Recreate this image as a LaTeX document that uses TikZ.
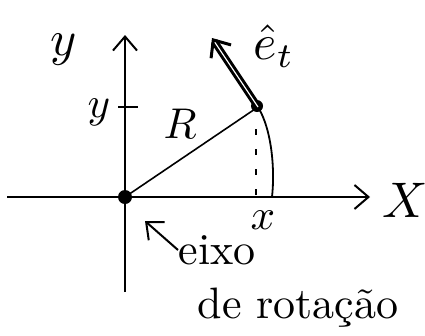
\documentclass[tikz,border=0pt]{standalone}
\usepackage{amsmath,amssymb}
\usepackage{tikz}
\usetikzlibrary{arrows.meta,positioning,calc}

\begin{document}
\begin{tikzpicture}[x=1pt,y=-1pt,>={Straight Barb[length=14pt,width=24pt]},
  axis/.style={line width=2pt},
  lbl/.style={inner sep=0pt,scale=4.3},
  big/.style={inner sep=0pt,scale=5},
  txt/.style={inner sep=0pt,scale=4.4}]
\useasboundingbox (0,0) rectangle (425,335);
% axes
\coordinate (O) at (125,197);
\coordinate (xl) at (7,197);
\coordinate (xr) at (370,197);
\coordinate (yb) at (125,292);
\coordinate (yt) at (125,35);
\draw[axis,->] (xl)--(xr);
\draw[axis,->] (yb)--(yt);
\fill (O) circle (7);
% point on the circle
\coordinate (P) at (258,107);
\coordinate (Q) at (272,197);
\coordinate (Px) at (256,197);
\draw[line width=1.6pt] (O)--(P);
\draw[line width=1.8pt] (P) .. controls (272,130) and (275,170) .. (Q);
\draw[line width=1.6pt,dash pattern=on 6pt off 14pt] ($(P)+(-2,22)$)--(Px);
\fill ($(P)+(-1,-1)$) circle (6);
% tick on y axis
\draw[line width=2pt] (118,107)--(138,107);
% tangent vector
\coordinate (et) at (212,38);
\draw[line width=3pt,double=white,double distance=1.2pt,->] (P)--(et);
% labels
\node[big] (ly) at (64,50) {$y$};
\node[lbl] (ly2) at (99,112) {$y$};
\node[lbl] (lR) at (180,124) {$R$};
\node[lbl] (lx) at (263,220) {$x$};
\node[big] (lX) at (405,200) {$X$};
\node[big] (le) at (274,46) {$\hat{e}_t$};
% axis of rotation
\node[txt,anchor=west] (eixo) at (178,250) {eixo};
\node[txt] (rot) at (298,308) {de rotação};
\draw[line width=2pt,->] (eixo.west)--(145,221);
\end{tikzpicture}
\end{document}
